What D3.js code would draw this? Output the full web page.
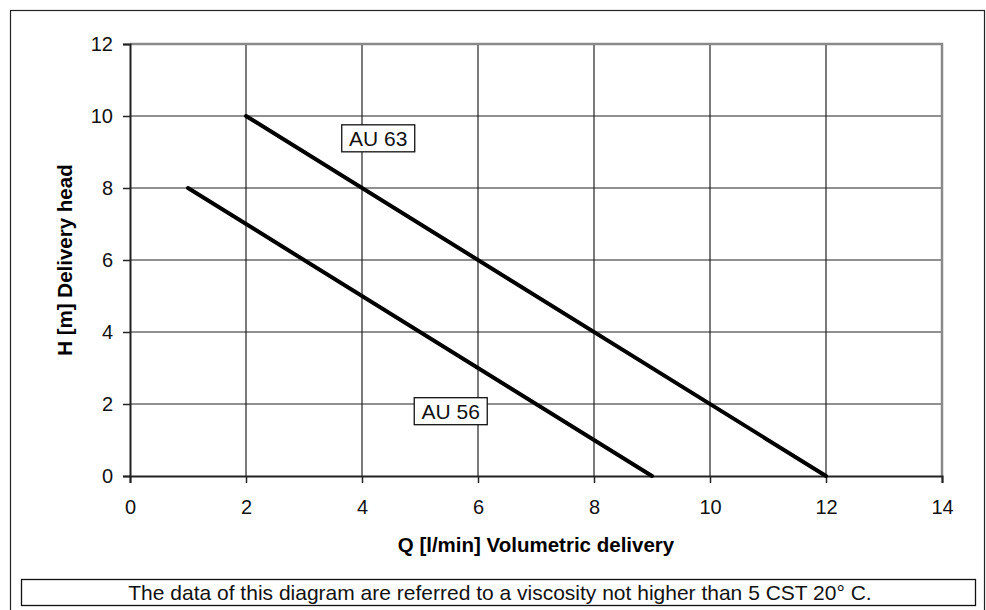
<!DOCTYPE html>
<html>
<head>
<meta charset="utf-8">
<script src="https://cdn.jsdelivr.net/npm/d3@7"></script>
<style>
  body { margin: 0; background: #fff; }
  svg { display: block; font-family: "Liberation Sans", Arial, sans-serif; }
</style>
</head>
<body>
<div id="chart"></div>
<script>
// pump curves
const xTicks = [0, 2, 4, 6, 8, 10, 12, 14];
const yTicks = [0, 2, 4, 6, 8, 10, 12];

const au63Q = [2, 12];
const au63H = [10, 0];
const au56Q = [1, 9];
const au56H = [8, 0];

// label anchors in data units
const labelNames = ["AU 63", "AU 56"];
const labelQ = [4.28, 5.53];
const labelH = [9.38, 1.8];

const noteText = "The data of this diagram are referred to a viscosity not higher than 5 CST 20° C.";

const width = 986, height = 610;
const margin = { left: 130, right: 44, top: 44, bottom: 134 };

const svg = d3.select("#chart").append("svg")
    .attr("width", width)
    .attr("height", height);

// outer frame
svg.append("rect")
    .attr("x", 10.5).attr("y", 10.5)
    .attr("width", 974).attr("height", 610)
    .attr("fill", "none").attr("stroke", "#222").attr("stroke-width", 1.2);

const x = d3.scaleLinear().domain([0, 14]).range([margin.left, width - margin.right]);
const y = d3.scaleLinear().domain([0, 12]).range([height - margin.bottom, margin.top]);

// grid
svg.append("g").selectAll("line")
    .data(xTicks.filter(d => d > 0 && d < 14))
    .join("line")
    .attr("x1", d => x(d)).attr("x2", d => x(d))
    .attr("y1", y(12)).attr("y2", y(0))
    .attr("stroke", "#222").attr("stroke-width", 1.2);

svg.append("g").selectAll("line")
    .data(yTicks.filter(d => d > 0 && d < 12))
    .join("line")
    .attr("x1", x(0)).attr("x2", x(14))
    .attr("y1", d => y(d)).attr("y2", d => y(d))
    .attr("stroke", "#222").attr("stroke-width", 1.2);

// top and right border in gray
svg.append("path")
    .attr("d", `M${x(0)},${y(12)}H${x(14)}V${y(0)}`)
    .attr("fill", "none").attr("stroke", "#8a8a8a").attr("stroke-width", 2.5);

// axes
const xAxis = svg.append("g")
    .attr("transform", `translate(0,${y(0)})`)
    .call(d3.axisBottom(x).tickValues(xTicks).tickSize(7).tickPadding(17));
const yAxis = svg.append("g")
    .attr("transform", `translate(${x(0)},0)`)
    .call(d3.axisLeft(y).tickValues(yTicks).tickSize(7).tickPadding(10));

[xAxis, yAxis].forEach(g => {
    g.select(".domain").attr("stroke", "#222").attr("stroke-width", 2);
    g.selectAll(".tick line").attr("stroke", "#222").attr("stroke-width", 1.5);
    g.selectAll("text")
        .attr("fill", "#111")
        .style("font-size", "20px")
        .style("font-family", "'Liberation Sans', Arial, sans-serif");
});

// curves
const line = d3.line().x(d => x(d[0])).y(d => y(d[1]));
const curves = [d3.zip(au63Q, au63H), d3.zip(au56Q, au56H)];
svg.append("g").selectAll("path")
    .data(curves)
    .join("path")
    .attr("d", line)
    .attr("fill", "none")
    .attr("stroke", "#000")
    .attr("stroke-width", 4)
    .attr("stroke-linecap", "round");

// curve labels
const lab = svg.append("g").selectAll("g")
    .data(labelNames)
    .join("g")
    .attr("transform", (d, i) => `translate(${x(labelQ[i])},${y(labelH[i])})`);
lab.append("rect")
    .attr("x", -36.5).attr("y", -13.5)
    .attr("width", 73).attr("height", 27)
    .attr("fill", "#fff").attr("stroke", "#111").attr("stroke-width", 1.3);
lab.append("text")
    .attr("text-anchor", "middle")
    .attr("dy", "0.36em")
    .style("font-size", "21px")
    .attr("fill", "#111")
    .text(d => d);

// axis titles
svg.append("text")
    .attr("x", (x(0) + x(14)) / 2)
    .attr("y", 552)
    .attr("text-anchor", "middle")
    .style("font-size", "20.5px")
    .style("font-weight", "bold")
    .text("Q [l/min] Volumetric delivery");

svg.append("text")
    .attr("transform", `translate(72,${(y(0) + y(12)) / 2}) rotate(-90)`)
    .attr("text-anchor", "middle")
    .style("font-size", "20.5px")
    .style("font-weight", "bold")
    .text("H [m] Delivery head");

// note box
svg.append("rect")
    .attr("x", 21.5).attr("y", 579.5)
    .attr("width", 954).attr("height", 26)
    .attr("fill", "#fff").attr("stroke", "#111").attr("stroke-width", 1.3);
svg.append("text")
    .attr("x", 500).attr("y", 600)
    .attr("text-anchor", "middle")
    .style("font-size", "21px")
    .attr("fill", "#111")
    .text(noteText);
</script>
</body>
</html>
